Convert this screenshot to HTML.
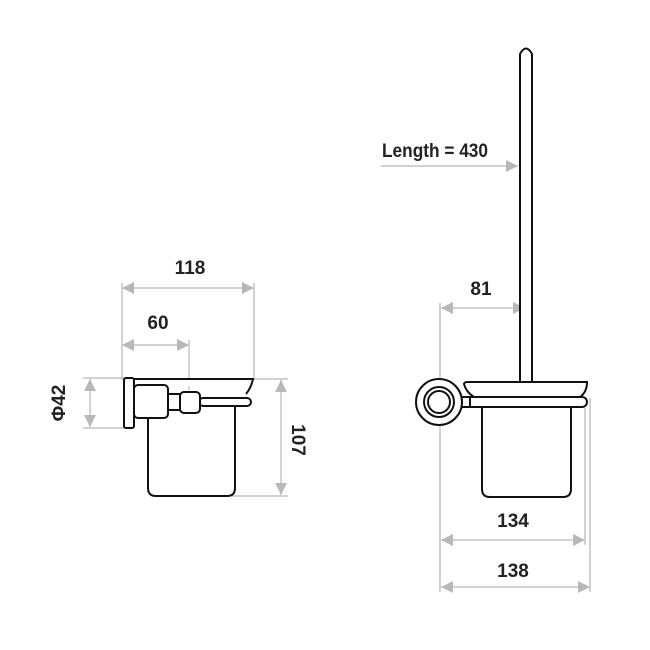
<!DOCTYPE html>
<html><head><style>body{margin:0;background:#fff}svg{display:block}</style></head><body>
<svg width="650" height="650" viewBox="0 0 650 650" xmlns="http://www.w3.org/2000/svg" font-family="Liberation Sans Narrow, Liberation Sans, sans-serif" font-weight="bold">
<defs>
<marker id="a" viewBox="0 0 12 12" refX="12" refY="6" markerWidth="12" markerHeight="12" markerUnits="userSpaceOnUse" orient="auto-start-reverse"><path d="M0,0L12,6L0,12z" fill="#b8b8b8"/></marker>
</defs>
<g stroke="#c4c4c4" stroke-width="1.5" fill="none">
<line x1="122" y1="283" x2="122" y2="380"/>
<line x1="254" y1="283" x2="254" y2="380"/>
<line x1="189" y1="340" x2="189" y2="390"/>
<line x1="83" y1="378" x2="124" y2="378"/>
<line x1="83" y1="428" x2="124" y2="428"/>
<line x1="253" y1="379" x2="288" y2="379"/>
<line x1="232" y1="496" x2="288" y2="496"/>
<line x1="440" y1="303" x2="440" y2="592"/>
<line x1="585" y1="408" x2="585" y2="545"/>
<line x1="590" y1="398" x2="590" y2="592"/>
</g>
<g stroke="#c4c4c4" stroke-width="1.5" marker-start="url(#a)" marker-end="url(#a)">
<line x1="122" y1="288" x2="254" y2="288"/>
<line x1="122" y1="345" x2="189" y2="345"/>
<line x1="90" y1="379" x2="90" y2="427"/>
<line x1="281" y1="380" x2="281" y2="495"/>
<line x1="441" y1="308" x2="525" y2="308"/>
<line x1="441" y1="540" x2="585" y2="540"/>
<line x1="441" y1="587" x2="590" y2="587"/>
</g>
<line x1="381" y1="166" x2="518" y2="166" stroke="#c4c4c4" stroke-width="1.5" marker-end="url(#a)"/>
<g font-size="19" fill="#222" text-anchor="middle">
<text x="190" y="274">118</text>
<text x="158" y="329">60</text>
<text x="481" y="295">81</text>
<text x="513" y="527">134</text>
<text x="513" y="577">138</text>
<text x="435" y="157" textLength="106" lengthAdjust="spacingAndGlyphs">Length = 430</text>
<text transform="translate(65,403) rotate(-90)">Φ42</text>
<text transform="translate(292,440) rotate(90)">107</text>
</g>
<g stroke="#111" stroke-width="2" fill="#fff">
<path d="M148,418 V488 Q148,496 156,496 H227 Q235,496 235,488 V406"/>
<path d="M134,379 H253 Q251,388 246,394"/>
<rect x="199" y="398" width="52" height="8" rx="4"/>
<rect x="124" y="378" width="10" height="50" rx="2"/>
<rect x="134" y="385" width="34" height="33" rx="4"/>
<rect x="168" y="394" width="12" height="16"/>
<rect x="180" y="392" width="20" height="21" rx="4"/>
<path d="M520,381 V54 Q526,43 532,54 V381"/>
<path d="M482,407 V489 Q482,497 490,497 H563 Q571,497 571,489 V407"/>
<path d="M464,384 Q464,382 468,382 H587 Q587,392 580,397 H474 Q466,392 464,384 Z"/>
<rect x="449" y="397" width="138" height="10" rx="5"/>
<line x1="470" y1="397" x2="470" y2="407"/>
<circle cx="439" cy="402" r="23"/>
<circle cx="439" cy="402" r="15"/>
<circle cx="439" cy="402" r="11"/>
</g>
</svg>
</body></html>
